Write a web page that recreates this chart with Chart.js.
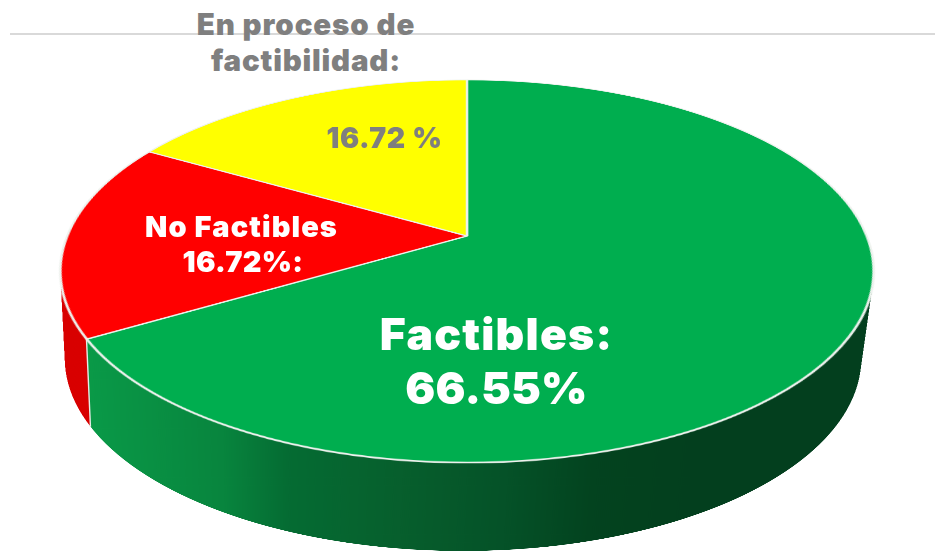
<!DOCTYPE html>
<html><head><meta charset="utf-8">
<script src="https://cdn.jsdelivr.net/npm/chart.js@4"></script>
<style>
html,body{margin:0;padding:0;background:#fff;width:935px;height:552px;overflow:hidden}
#stage{position:relative;width:935px;height:552px;overflow:hidden}
canvas{position:absolute;left:0;top:0;transform-origin:0 0}
#rule{position:absolute;left:10px;top:33px;width:925px;height:2px;background:#d9d9d9}
.lb{position:absolute;white-space:nowrap;transform:translateX(-50%);font-family:Inter,"Open Sans",sans-serif;font-weight:900;line-height:1}
</style></head><body>
<div id="stage">
<canvas id="wall"></canvas>
<canvas id="top"></canvas>
<div id="rule"></div>
</div>
<script>
const categories = ["Factibles", "No Factibles", "En proceso de factibilidad"];
const shares = [66.55, 16.72, 16.72];
const topColors = ["#00ae4f", "#ff0000", "#ffff00"];
const wallStops = [[0.03,"#0a9a48"],[0.2,"#08853e"],[0.28,"#056c33"],[0.42,"#075f2d"],[0.55,"#055228"],[0.66,"#03431f"],[0.8,"#033f1e"],[1,"#033f1e"]];
const labelLines = [
  {text:"Factibles:", x:496.5, base:350, size:44.5, color:"#fff", ls:1.2},
  {text:"66.55%", x:496.5, base:404, size:44.5, color:"#fff", ls:0.2},
  {text:"No Factibles", x:241.5, base:237, size:29, color:"#fff", ls:1.1},
  {text:"16.72%:", x:243, base:272, size:29, color:"#fff", ls:0.3},
  {text:"En proceso de", x:306, base:35, size:29.5, color:"#7f7f7f", ls:0.9},
  {text:"factibilidad:", x:306, base:71, size:29.5, color:"#7f7f7f", ls:0.8},
  {text:"16.72 %", x:384.5, base:149, size:28.5, color:"#7f7f7f", ls:0.6}
];

/* top face: flat pie seen through a perspective homography */
const SIZE = 800, R = SIZE / 2;
const apexX = 467, apexY = 236, rimTop = 79.5, rimBottom = 463.5, halfWidth = 406.5, topHalfWidth = 408;
const c = (2 * apexY - rimTop - rimBottom) / (rimBottom - rimTop);
const b = apexY - rimTop + rimTop * c;
const a = topHalfWidth * Math.sqrt(1 - c * c);
const m = [
  a / R, 0, 0, 0,
  apexX * c / R, b / R, 0, c / R,
  0, 0, 1, 0,
  apexX * (1 - c) - a, apexY - b, 0, 1 - c
];
const topCv = document.getElementById("top");
topCv.width = SIZE; topCv.height = SIZE;
topCv.style.transform = "matrix3d(" + m.join(",") + ")";
new Chart(topCv, {
  type: "pie",
  data: {labels: categories, datasets: [{data: shares, backgroundColor: topColors, borderColor: "#eef2ee", borderWidth: 2.5}]},
  options: {responsive:false, animation:false, devicePixelRatio:2, layout:{padding:0},
    plugins:{legend:{display:false}, tooltip:{enabled:false}}}
});

/* side wall: the same pie stacked from the rim ellipse to the lower ellipse */
const rimCy = 271.5, rimRy = 191.5, lowCx = 463, lowCy = 359, lowRx = 398, lowRy = 192;
const yScale = rimRy / halfWidth, WW = Math.round(halfWidth * 2), EXTRA = 240;
const wallCv = document.getElementById("wall");
wallCv.width = WW; wallCv.height = WW + EXTRA;
wallCv.style.transform = "translate(" + (apexX - halfWidth) + "px," + (rimCy - rimRy) + "px) scaleY(" + yScale + ")";
const wctx = wallCv.getContext("2d");
const grad = wctx.createLinearGradient(0, 0, WW, 0);
wallStops.forEach(s => grad.addColorStop(s[0], s[1]));
const stackPlugin = {
  id: "stack",
  beforeDatasetsDraw(chart) {
    const ctx = chart.ctx, arcs = chart.getDatasetMeta(0).data, o = arcs[0];
    const dx = lowCx - apexX, dy = (lowCy - rimCy) / yScale, sx = lowRx / halfWidth, sy = lowRy / rimRy;
    const steps = 320;
    for (let i = steps; i >= 4; i--) {
      const t = i / steps;
      ctx.save();
      ctx.translate(o.x + dx * t, o.y + dy * t);
      ctx.scale(1 + (sx - 1) * t, 1 + (sy - 1) * t);
      ctx.translate(-o.x, -o.y);
      arcs.forEach(el => el.draw(ctx));
      ctx.restore();
    }
    const ang = arcs[0].endAngle, rr = arcs[0].outerRadius;
    const p0 = [o.x + rr * Math.cos(ang), o.y + rr * Math.sin(ang)];
    const p1 = [o.x + dx + sx * rr * Math.cos(ang), o.y + dy + sy * rr * Math.sin(ang)];
    ctx.save();
    ctx.strokeStyle = "#e6ebe6"; ctx.lineWidth = 1.4;
    ctx.beginPath(); ctx.moveTo(p0[0], p0[1]); ctx.lineTo(p1[0], p1[1]); ctx.stroke();
    ctx.restore();
    return false;
  }
};
new Chart(wallCv, {
  type: "pie",
  data: {labels: categories, datasets: [{data: shares, backgroundColor: [grad, "#d90000", "#b8b800"], borderWidth: 0}]},
  options: {responsive:false, animation:false, devicePixelRatio:2, rotation: 9.8, layout:{padding:{bottom:EXTRA}},
    plugins:{legend:{display:false}, tooltip:{enabled:false}}},
  plugins: [stackPlugin]
});

/* text */
const stage = document.getElementById("stage");
labelLines.forEach(l => {
  const d = document.createElement("div");
  d.className = "lb"; d.textContent = l.text;
  d.style.left = l.x + "px";
  d.style.fontSize = l.size + "px";
  d.style.letterSpacing = l.ls + "px";
  d.style.color = l.color;
  d.style.top = (l.base - l.size * 0.86) + "px";
  stage.appendChild(d);
});
</script>
</body></html>
